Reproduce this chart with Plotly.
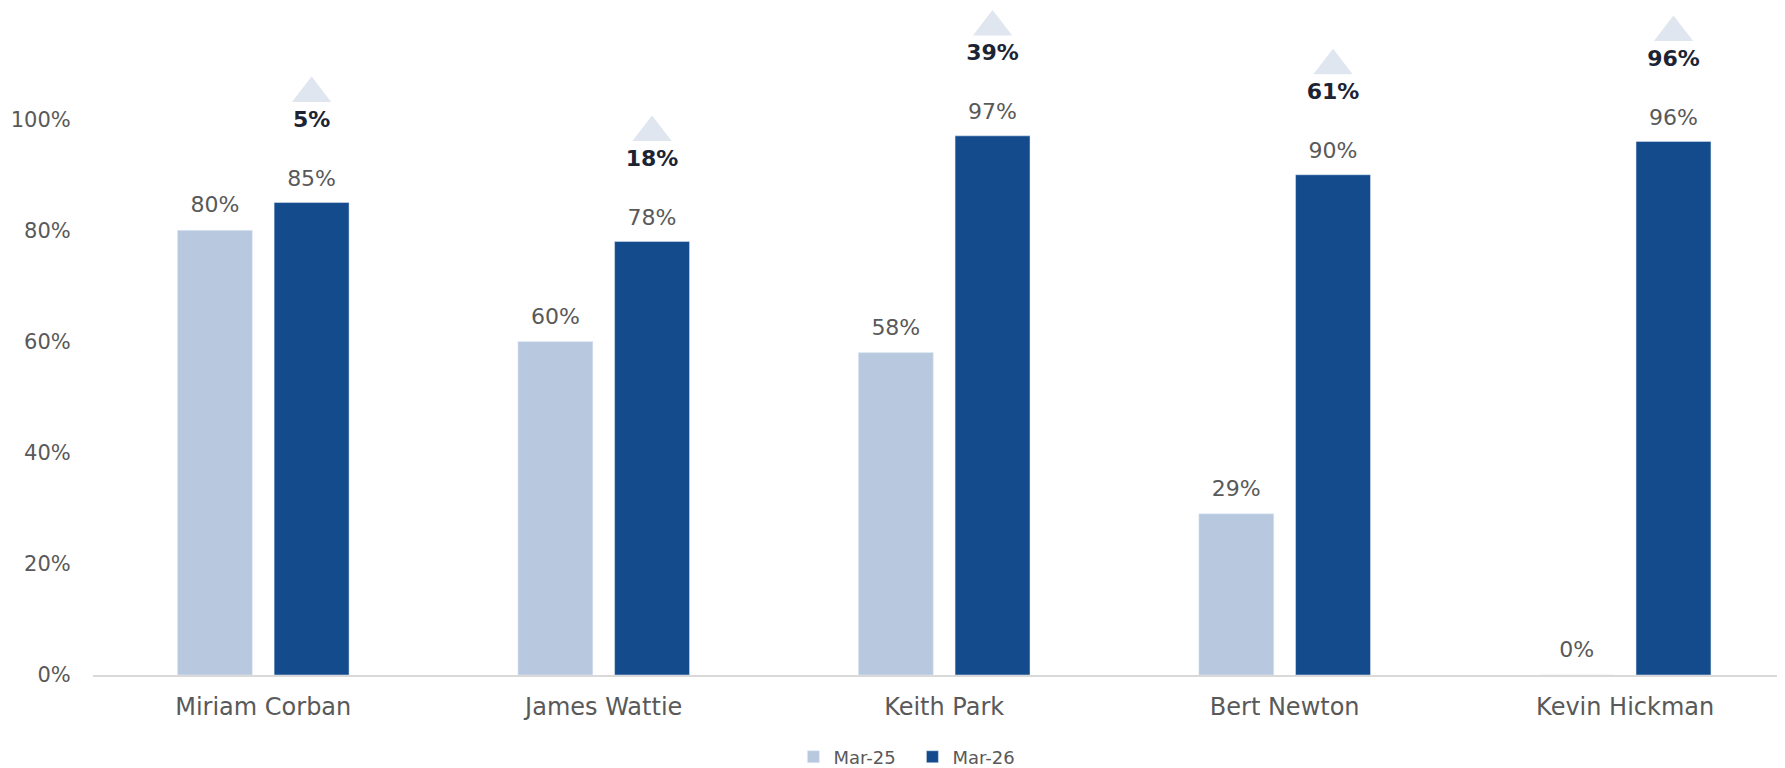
import plotly.graph_objects as go

names = ["Miriam Corban", "James Wattie", "Keith Park", "Bert Newton", "Kevin Hickman"]
mar25 = [0.80, 0.60, 0.58, 0.29, 0.00]
mar26 = [0.85, 0.78, 0.97, 0.90, 0.96]
change = ["5%", "18%", "39%", "61%", "96%"]
ytick_vals = [0, 0.2, 0.4, 0.6, 0.8, 1.0]
ytick_text = ["0%", "20%", "40%", "60%", "80%", "100%"]

C25 = "#b8c9df"
C26 = "#134b8d"
GREY = "#595959"
FONT = "DejaVu Sans"

idx = list(range(len(names)))
off = 0.142

fig = go.Figure()
fig.add_trace(go.Bar(x=idx, y=mar25, name="Mar-25", marker_color=C25))
fig.add_trace(go.Bar(x=idx, y=mar26, name="Mar-26", marker_color=C26))

# value labels
fig.add_trace(go.Scatter(
    x=[i - off for i in idx], y=[v + 0.042 for v in mar25], mode="text",
    text=[f"{round(v*100)}%" for v in mar25], textposition="middle center",
    textfont=dict(size=22, color=GREY, family=FONT), showlegend=False, hoverinfo="skip"))
fig.add_trace(go.Scatter(
    x=[i + off for i in idx], y=[v + 0.040 for v in mar26], mode="text",
    text=[f"{round(v*100)}%" for v in mar26], textposition="middle center",
    textfont=dict(size=22, color=GREY, family=FONT), showlegend=False, hoverinfo="skip"))
# triangles
fig.add_trace(go.Scatter(
    x=[i + off for i in idx], y=[v + 0.196 for v in mar26], mode="markers",
    marker=dict(symbol="triangle-up", size=34, color="#dfe6ef"),
    showlegend=False, hoverinfo="skip", cliponaxis=False))
# change labels
fig.add_trace(go.Scatter(
    x=[i + off for i in idx], y=[v + 0.146 for v in mar26], mode="text",
    text=[f"<b>{c}</b>" for c in change], textposition="middle center",
    textfont=dict(size=22, color="#1c2433", family=FONT), showlegend=False,
    hoverinfo="skip", cliponaxis=False))

fig.update_layout(
    width=1785, height=768,
    margin=dict(l=85, r=0, t=0, b=101, autoexpand=False),
    paper_bgcolor="white", plot_bgcolor="white",
    barmode="group", bargap=0.432, bargroupgap=0.225,
    font=dict(family=FONT, color=GREY, size=22),
    legend=dict(orientation="h", x=0.482, xanchor="center", y=-0.123, yanchor="middle",
                entrywidth=74, entrywidthmode="pixels",
                font=dict(size=18, color=GREY, family=FONT), traceorder="normal"),
    showlegend=True,
)
fig.update_xaxes(
    range=[-0.5, 4.493], tickmode="array", tickvals=idx, ticktext=names,
    showgrid=False, zeroline=False, showline=True, linecolor="#d9d9d9", linewidth=1.5,
    ticks="outside", ticklen=9, tickcolor="rgba(0,0,0,0)",
    tickfont=dict(size=24, color=GREY, family=FONT))
fig.update_yaxes(
    range=[0, 1.2], tickmode="array", tickvals=ytick_vals, ticktext=ytick_text,
    showgrid=False, zeroline=False, showline=False,
    ticks="outside", ticklen=17, tickcolor="rgba(0,0,0,0)",
    tickfont=dict(size=21, color=GREY, family=FONT))

fig.write_html("out.html")
